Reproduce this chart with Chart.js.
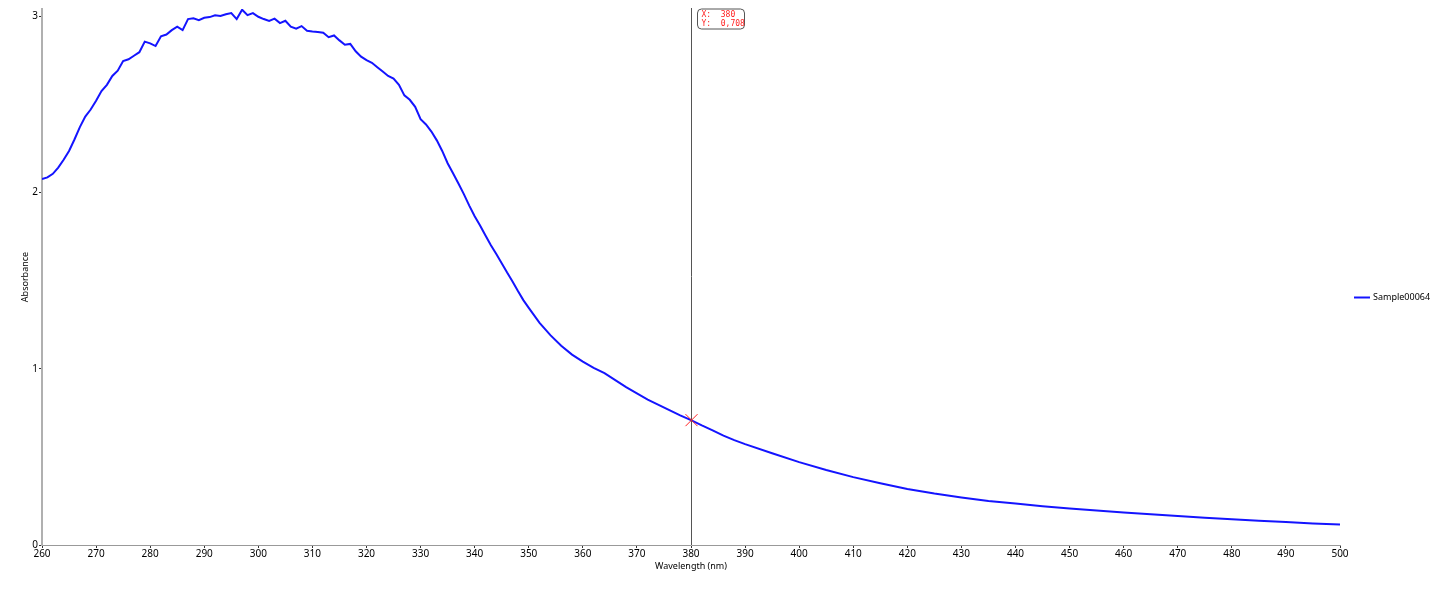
<!DOCTYPE html>
<html>
<head>
<meta charset="utf-8">
<script src="https://cdn.jsdelivr.net/npm/chart.js@4.4.1/dist/chart.umd.min.js"></script>
<style>
  html, body { margin: 0; padding: 0; background: #fff; }
  #wrap { position: relative; width: 1434px; height: 594px; }
</style>
</head>
<body>
<div id="wrap"><canvas id="c" width="1434" height="594"></canvas></div>
<script>
// ---- data ----
const seriesName = "Sample00064";
const wavelengths = [
  260,261,262,263,264,265,266,267,268,269,
  270,271,272,273,274,275,276,277,278,279,
  280,281,282,283,284,285,286,287,288,289,
  290,291,292,293,294,295,296,297,298,299,
  300,301,302,303,304,305,306,307,308,309,
  310,311,312,313,314,315,316,317,318,319,
  320,321,322,323,324,325,326,327,328,329,
  330,331,332,333,334,335,336,337,338,339,
  340,341,342,343,344,345,346,347,348,349,
  350,352,354,356,358,360,362,364,366,368,
  370,372,374,376,378,380,382,384,386,388,
  390,395,400,405,410,415,420,425,430,435,
  440,445,450,455,460,465,470,475,480,485,
  490,495,500
];
const absorbance = [
  2.075,2.085,2.105,2.14,2.185,2.235,2.30,2.37,2.43,2.47,
  2.52,2.575,2.61,2.66,2.69,2.745,2.755,2.775,2.795,2.855,
  2.845,2.83,2.885,2.895,2.92,2.94,2.92,2.983,2.987,2.977,
  2.99,2.994,3.004,3.00,3.01,3.017,2.983,3.036,3.005,3.017,
  2.996,2.983,2.972,2.985,2.96,2.973,2.94,2.928,2.943,2.917,
  2.913,2.91,2.905,2.88,2.89,2.862,2.837,2.842,2.80,2.77,
  2.75,2.735,2.71,2.685,2.66,2.645,2.61,2.55,2.525,2.485,
  2.415,2.385,2.345,2.295,2.235,2.165,2.108,2.05,1.99,1.925,
  1.865,1.812,1.755,1.70,1.65,1.598,1.545,1.495,1.44,1.389,
  1.345,1.26,1.19,1.13,1.08,1.04,1.005,0.975,0.935,0.895,
  0.86,0.825,0.795,0.765,0.735,0.708,0.678,0.65,0.62,0.595,
  0.572,0.52,0.47,0.425,0.385,0.35,0.318,0.292,0.27,0.25,
  0.235,0.22,0.207,0.196,0.185,0.175,0.165,0.155,0.146,0.138,
  0.13,0.122,0.116
];
const xTicks = [260,270,280,290,300,310,320,330,340,350,360,370,380,390,400,410,420,430,440,450,460,470,480,490,500];
const yTicks = [0,1,2,3];
const cursorX = 380;
const cursorY = 0.708;
const xTitle = "Wavelength (nm)";
const yTitle = "Absorbance";

const points = wavelengths.map((w, i) => ({ x: w, y: absorbance[i] }));

const FONT = "'Noto Sans', 'DejaVu Sans', sans-serif";
const LINE_COLOR = '#1414ff';

const cursorPlugin = {
  id: 'cursor',
  afterDatasetsDraw(chart) {
    const { ctx, chartArea, scales } = chart;
    const px = Math.round(scales.x.getPixelForValue(cursorX)) + 0.5;
    const py = scales.y.getPixelForValue(cursorY);
    ctx.save();
    // vertical cursor line
    ctx.strokeStyle = '#555';
    ctx.lineWidth = 1;
    ctx.beginPath();
    ctx.moveTo(px, chartArea.top - 1);
    ctx.lineTo(px, chartArea.bottom);
    ctx.stroke();
    // red cross marker
    ctx.strokeStyle = '#ff2020';
    ctx.lineWidth = 1;
    const s = 6;
    ctx.beginPath();
    ctx.moveTo(px - s, py - s); ctx.lineTo(px + s, py + s);
    ctx.moveTo(px - s, py + s); ctx.lineTo(px + s, py - s);
    ctx.stroke();
    // label box
    const bx = px + 6, by = chartArea.top, bw = 47, bh = 20, r = 4;
    ctx.fillStyle = '#fff';
    ctx.strokeStyle = '#555';
    ctx.beginPath();
    ctx.moveTo(bx + r, by);
    ctx.lineTo(bx + bw - r, by);
    ctx.quadraticCurveTo(bx + bw, by, bx + bw, by + r);
    ctx.lineTo(bx + bw, by + bh - r);
    ctx.quadraticCurveTo(bx + bw, by + bh, bx + bw - r, by + bh);
    ctx.lineTo(bx + r, by + bh);
    ctx.quadraticCurveTo(bx, by + bh, bx, by + bh - r);
    ctx.lineTo(bx, by + r);
    ctx.quadraticCurveTo(bx, by, bx + r, by);
    ctx.closePath();
    ctx.fill();
    ctx.stroke();
    ctx.fillStyle = '#ff2020';
    ctx.font = "8px 'DejaVu Sans Mono', monospace";
    ctx.textBaseline = 'middle';
    ctx.textAlign = 'left';
    ctx.fillText('X:  ' + cursorX, bx + 4, by + 5.5);
    ctx.fillText('Y:  ' + cursorY.toFixed(3).replace('.', ','), bx + 4, by + 14.5);
    ctx.restore();
  }
};

const legendPlugin = {
  id: 'sideLegend',
  afterDraw(chart) {
    const { ctx, chartArea } = chart;
    const ds = chart.data.datasets[0];
    const cy = 297.5;
    const x0 = chartArea.right + 14;
    ctx.save();
    ctx.strokeStyle = ds.borderColor;
    ctx.lineWidth = 2;
    ctx.beginPath();
    ctx.moveTo(x0, cy);
    ctx.lineTo(x0 + 16, cy);
    ctx.stroke();
    ctx.fillStyle = '#000';
    ctx.font = "9px " + FONT;
    ctx.textBaseline = 'middle';
    ctx.textAlign = 'left';
    ctx.fillText(ds.label, x0 + 19, cy);
    ctx.restore();
  }
};

new Chart(document.getElementById('c'), {
  type: 'line',
  data: {
    datasets: [{
      label: seriesName,
      data: points,
      borderColor: LINE_COLOR,
      backgroundColor: LINE_COLOR,
      borderWidth: 2,
      pointRadius: 0,
      tension: 0,
      fill: false
    }]
  },
  options: {
    responsive: false,
    animation: false,
    layout: { padding: { top: 9, left: 0, right: 94, bottom: 0 } },
    plugins: {
      tooltip: { enabled: false },
      legend: { display: false }
    },
    scales: {
      x: {
        type: 'linear',
        min: 260,
        max: 500,
        afterBuildTicks(scale) { scale.ticks = xTicks.map(v => ({ value: v })); },
        afterFit(scale) { scale.height = 49; },
        grid: { display: true, drawOnChartArea: false, drawTicks: true, tickLength: 3, color: '#333' },
        border: { display: true, color: '#999', width: 1 },
        ticks: { color: '#000', font: { family: FONT, size: 10 }, padding: 0, maxRotation: 0, autoSkip: false },
        title: { display: true, text: xTitle, color: '#000', font: { family: FONT, size: 9 }, padding: { top: 0, bottom: 22 } }
      },
      y: {
        type: 'linear',
        min: 0,
        max: 3.04,
        afterBuildTicks(scale) { scale.ticks = yTicks.map(v => ({ value: v })); },
        afterFit(scale) { scale.width = 42; },
        grid: { display: true, drawOnChartArea: false, drawTicks: true, tickLength: 3, color: '#333' },
        border: { display: true, color: '#b0b0b0', width: 2 },
        ticks: { color: '#000', font: { family: FONT, size: 10 }, padding: 1 },
        title: { display: true, text: yTitle, color: '#000', font: { family: FONT, size: 9 }, padding: { top: 20, bottom: 0 } }
      }
    }
  },
  plugins: [cursorPlugin, legendPlugin]
});
</script>
</body>
</html>
